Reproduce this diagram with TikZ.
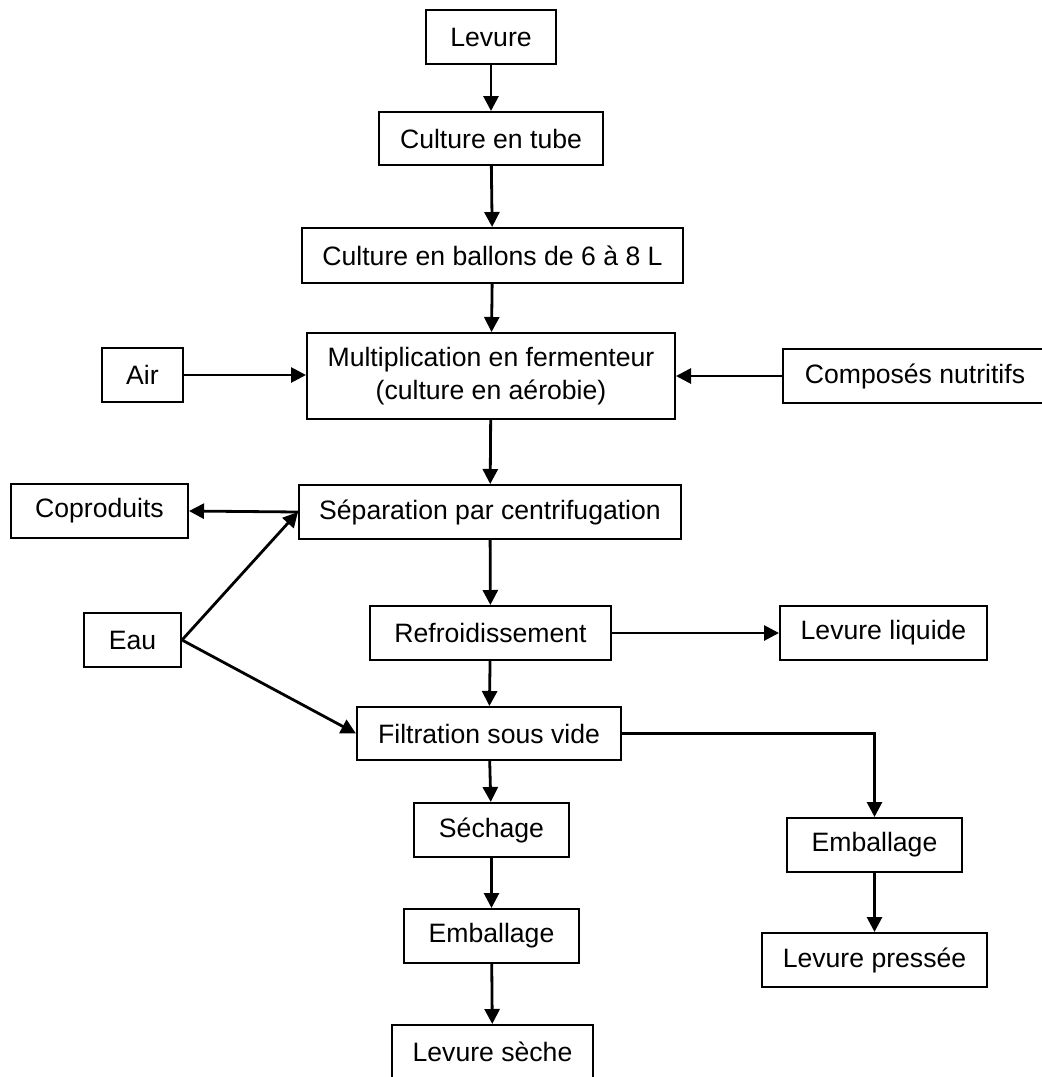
\documentclass[tikz,border=0pt]{standalone}
\usepackage{fontspec}
\setmainfont{Liberation Sans}
\usetikzlibrary{arrows.meta}
\tikzset{
    boite/.style 2 args = {draw, line width = 1pt, inner sep = 0pt, align = center, minimum width = #1*0.5pt, minimum height = #2*0.5pt},
    fleche/.style = {-{Triangle[length = 7.5pt, width = 7.5pt]}, line width = 1.4pt}
}

\begin{document}
\begin{tikzpicture}[x = 0.5pt, y = -0.5pt, font = \fontsize{13.3}{16.5}\selectfont]
    % Cadre
    \useasboundingbox (0,0) rectangle (1041,1077);
    % Boites
    \node[boite = {130}{54}] (levure) at (491,37) {Levure};
    \node[boite = {224}{53}] (tube) at (491,138.5) {Culture en tube};
    \node[boite = {381}{55}] (ballons) at (492.5,255.5) {Culture en ballons de 6 à 8 L};
    \node[boite = {368}{86}] (multi) at (491,376) {Multiplication en fermenteur\\(culture en aérobie)};
    \node[boite = {81}{54}] (air) at (142.5,375) {Air};
    \node[boite = {264}{54}] (composes) at (915,376) {Composés nutritifs};
    \node[boite = {382}{54}] (separation) at (490,512) {Séparation par centrifugation};
    \node[boite = {177}{54}] (coproduits) at (99.5,511) {Coproduits};
    \node[boite = {97}{54}] (eau) at (132.5,640) {Eau};
    \node[boite = {241}{54}] (refroid) at (490.5,633) {Refroidissement};
    \node[boite = {207}{54}] (liquide) at (883.5,633) {Levure liquide};
    \node[boite = {264}{53}] (filtration) at (489,733.5) {Filtration sous vide};
    \node[boite = {155}{54}] (sechage) at (491.5,830) {Séchage};
    \node[boite = {175}{54}] (emballageG) at (491.5,936) {Emballage};
    \node[boite = {201}{54}] (seche) at (492.5,1052) {Levure sèche};
    \node[boite = {175}{54}] (emballageD) at (874.5,845) {Emballage};
    \node[boite = {225}{54}] (pressee) at (874.5,960) {Levure pressée};
    % Fleches
    \draw[fleche] (levure) -- (tube);
    \draw[fleche] (tube) -- (ballons);
    \draw[fleche] (ballons) -- (multi);
    \draw[fleche] (air) -- (air -| multi.west);
    \draw[fleche] (composes) -- (composes -| multi.east);
    \draw[fleche] (multi) -- (separation);
    \draw[fleche] (separation.west) -- (coproduits.east);
    \draw[fleche] (eau.east) -- (separation.west);
    \draw[fleche] (eau.east) -- (filtration.west);
    \draw[fleche] (separation) -- (refroid);
    \draw[fleche] (refroid) -- (liquide);
    \draw[fleche] (refroid) -- (filtration);
    \draw[fleche] (filtration.east) -| (emballageD.north);
    \draw[fleche] (filtration) -- (sechage);
    \draw[fleche] (sechage) -- (emballageG);
    \draw[fleche] (emballageG) -- (seche);
    \draw[fleche] (emballageD) -- (pressee);
\end{tikzpicture}
\end{document}
